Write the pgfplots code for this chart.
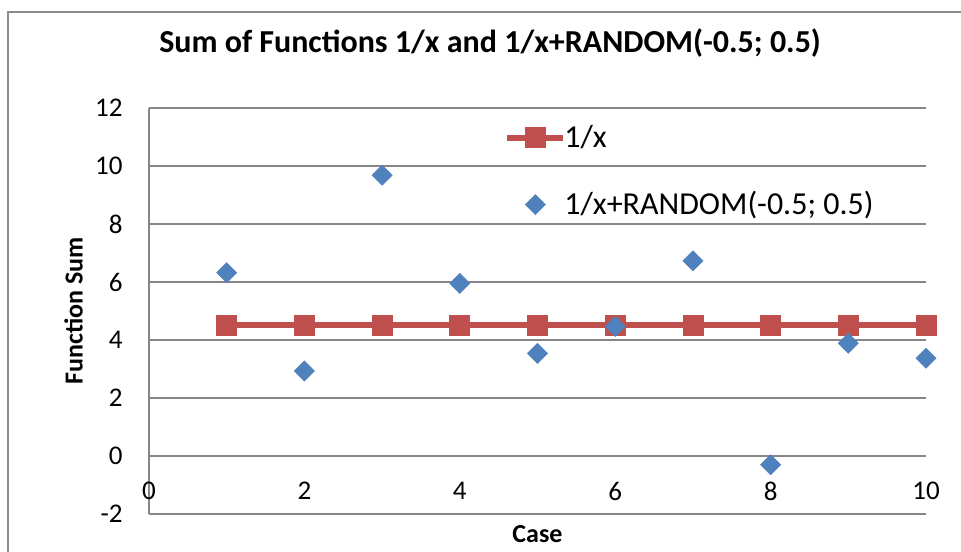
\documentclass[border=0pt]{standalone}
\usepackage{fontspec}
\setmainfont{Carlito}
\usepackage{pgfplots}
\pgfplotsset{compat=1.18}
\definecolor{gridgray}{RGB}{134,134,134}
\definecolor{framegray}{RGB}{140,140,140}
\definecolor{xlred}{HTML}{C0504D}
\definecolor{xlblue}{HTML}{4F81BD}
\pgfplotsset{mylegimg/.style={legend image code/.code={\draw[mark repeat=2,mark phase=2,##1] plot coordinates {(0pt,0pt) (14pt,0pt) (28pt,0pt)};}}}
\begin{document}
\begin{tikzpicture}
\begin{axis}[
  scale only axis, width=388.5pt, height=203pt,
  xmin=0, xmax=10, ymin=-2, ymax=12,
  xtick={0,2,...,10}, ytick={-2,0,...,12},
  axis lines=left,
  axis line style={-, draw=gridgray, line width=0.9pt},
  ymajorgrids,
  grid style={draw=gridgray, line width=0.9pt},
  tick style={draw=none}, major tick length=0pt,
  ticklabel style={font=\fontsize{13.5}{16}\selectfont},
  /pgf/number format/assume math mode=true,
  xticklabel style={anchor=center, inner sep=0pt, yshift=11.5pt},
  yticklabel style={anchor=east, inner sep=0pt, xshift=-13pt},
  xlabel={Case},
  xlabel style={at={(axis description cs:0.5,-0.0493)}, anchor=center, font=\bfseries\fontsize{13}{16}\selectfont},
  ylabel={Function Sum},
  ylabel style={at={(axis description cs:-0.0972,0.5)}, anchor=center, font=\bfseries\fontsize{13}{16}\selectfont},
  title={Sum of Functions 1/x and 1/x+RANDOM(-0.5; 0.5)},
  title style={at={(axis description cs:0.439,1.1305)}, anchor=center, font=\bfseries\fontsize{16}{19}\selectfont},
  legend style={draw=none, fill=none, at={(rel axis cs:0.4568,0.8436)}, anchor=west, inner sep=0pt,
    font=\fontsize{16}{19}\selectfont, row sep=20.5pt, nodes={inner sep=0pt},
    /tikz/every odd column/.append style={column sep=-1pt}},
  legend cell align=left,
  clip=false,
]
\addplot[color=xlred, line width=3pt, mark=square*, mark size=5pt, mark options={fill=xlred, draw=xlred, line width=0.4pt}, mylegimg]
  coordinates {(1,4.5) (2,4.5) (3,4.5) (4,4.5) (5,4.5) (6,4.5) (7,4.5) (8,4.5) (9,4.5) (10,4.5)};
\addlegendentry{1/x}
\addplot[only marks, mark=square*, mark size=3.54pt, mark options={rotate=45, fill=xlblue, draw=xlblue, line width=0.3pt}, mylegimg]
  coordinates {(1,6.32) (2,2.93) (3,9.68) (4,5.95) (5,3.54) (6,4.47) (7,6.73) (8,-0.30) (9,3.89) (10,3.37)};
\addlegendentry{1/x+RANDOM(-0.5; 0.5)}
\end{axis}
\draw[framegray, line width=0.75pt] (-70.5pt,-40pt) -- (-70.5pt,251pt) -- (430pt,251pt);
\pgfresetboundingbox
\path[use as bounding box] (-74.5pt,-18.5pt) rectangle (406pt,257pt);
\end{tikzpicture}
\end{document}
